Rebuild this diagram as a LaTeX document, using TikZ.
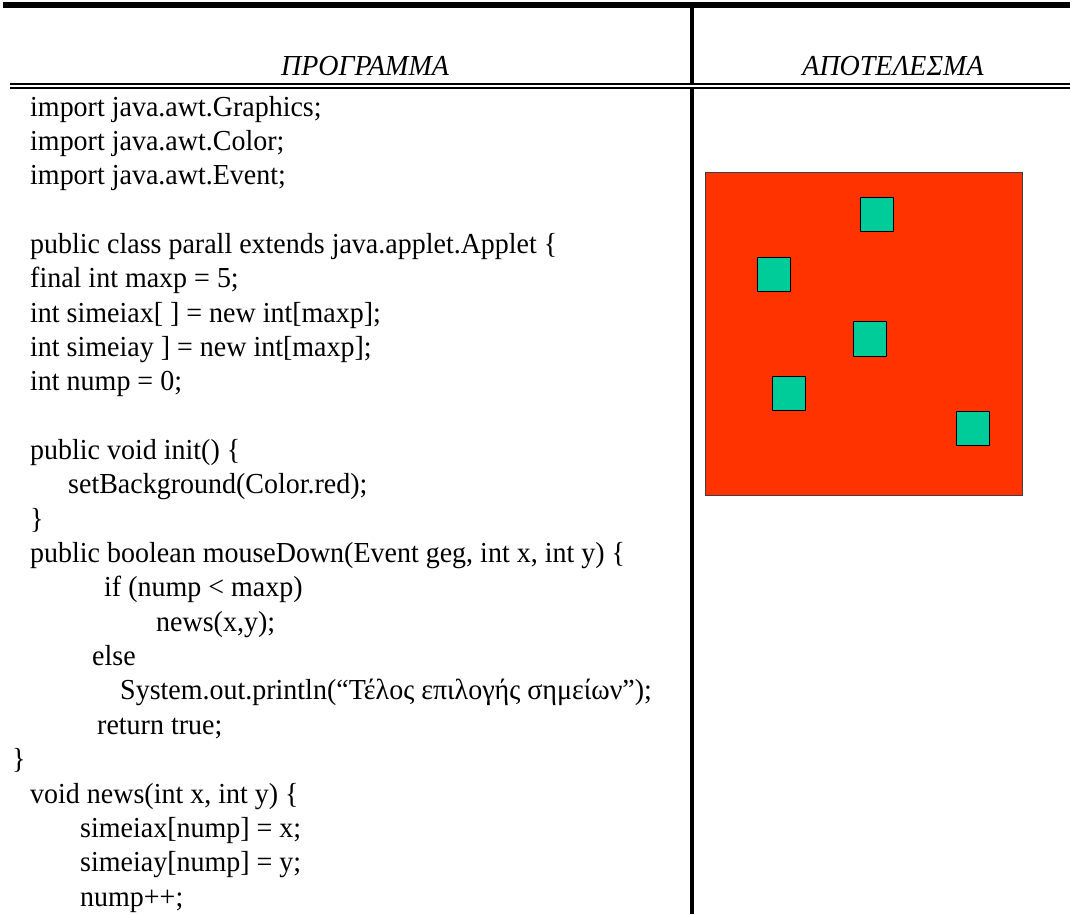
\documentclass[tikz,border=0pt]{standalone}
\usepackage{fontspec}
\setmainfont{Liberation Serif}[FakeStretch=0.965]
\definecolor{panelred}{HTML}{FF3300}
\definecolor{dotgreen}{HTML}{00CC99}
\begin{document}
\begin{tikzpicture}[x=1pt,y=-1pt]
\tikzset{
  code/.style={anchor=base west,inner sep=0pt,font=\fontsize{29}{34}\selectfont},
  head/.style={anchor=base,inner sep=0pt,font=\fontsize{29}{34}\selectfont\itshape},
  rule/.style={fill=black},
  panel/.style={fill=panelred,draw=black!75,line width=1pt},
  dot/.style={fill=dotgreen,draw=black,line width=1pt}
}
\useasboundingbox (0,0) rectangle (1070,914);

% table rules
\fill[rule] (3,2) rectangle (1070,8);
\fill[rule] (10,83) rectangle (1070,85);
\fill[rule] (10,87) rectangle (1070,89);
\fill[rule] (690,8) rectangle (694,83);
\fill[rule] (690,89) rectangle (694,914);

% column headings
\node[head] (hprog) at (365,75) {ΠΡΟΓΡΑΜΜΑ};
\node[head] (hres) at (893,75) {ΑΠΟΤΕΛΕΣΜΑ};

% program listing
\node[code] (l1)  at (30,116)    {import java.awt.Graphics;};
\node[code] (l2)  at (30,150.35) {import java.awt.Color;};
\node[code] (l3)  at (30,184.7)  {import java.awt.Event;};
\node[code] (l5)  at (30,253.4)  {public class parall extends java.applet.Applet \{};
\node[code] (l6)  at (30,287.75) {final int maxp = 5;};
\node[code] (l7)  at (30,322.1)  {int simeiax[ ] = new int[maxp];};
\node[code] (l8)  at (30,356.45) {int simeiay ] = new int[maxp];};
\node[code] (l9)  at (30,390.8)  {int nump = 0;};
\node[code] (l11) at (30,459.5)  {public void init() \{};
\node[code] (l12) at (68,493.85) {setBackground(Color.red);};
\node[code] (l13) at (30,528.2)  {\}};
\node[code] (l14) at (30,562.55) {public boolean mouseDown(Event geg, int x, int y) \{};
\node[code] (l15) at (104,596.9) {if (nump < maxp)};
\node[code] (l16) at (156,631.25) {news(x,y);};
\node[code] (l17) at (92,665.6)  {else};
\node[code] (l18) at (120,699.95) {System.out.println(“Τέλος επιλογής σημείων”);};
\node[code] (l19) at (97,734.3)  {return true;};
\node[code] (l20) at (12,768.65) {\}};
\node[code] (l21) at (30,803)    {void news(int x, int y) \{};
\node[code] (l22) at (80,837.35) {simeiax[nump] = x;};
\node[code] (l23) at (80,871.7)  {simeiay[nump] = y;};
\node[code] (l24) at (80,906.05) {nump++;};

% applet output: red canvas with five picked points
\filldraw[panel] (705,172) rectangle (1022,495);
\filldraw[dot] (860,197) rectangle (893,231);
\filldraw[dot] (757,257) rectangle (790,291);
\filldraw[dot] (853,321) rectangle (886,356);
\filldraw[dot] (772,376) rectangle (805,410);
\filldraw[dot] (956,411) rectangle (989,445);
\end{tikzpicture}
\end{document}
